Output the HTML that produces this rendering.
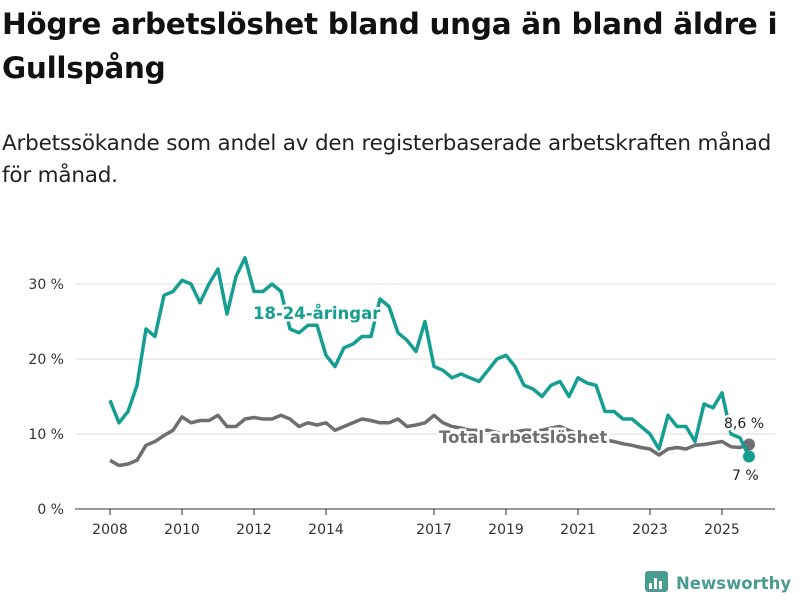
<!DOCTYPE html>
<html><head><meta charset="utf-8"><style>
body{margin:0;background:#fff;width:800px;height:600px;overflow:hidden;font-family:"DejaVu Sans","Liberation Sans",sans-serif;}
#title{position:absolute;left:2px;top:2px;font-size:29.5px;font-weight:bold;line-height:44px;color:#111;margin:0;width:798px;letter-spacing:-0.3px}
#sub{position:absolute;left:2px;top:128px;font-size:21.5px;line-height:32px;color:#222;width:798px;letter-spacing:-0.2px}
svg{position:absolute;left:0;top:0;font-family:"DejaVu Sans","Liberation Sans",sans-serif}
</style></head><body>
<h1 id="title">Högre arbetslöshet bland unga än bland äldre i Gullspång</h1>
<div id="sub">Arbetssökande som andel av den registerbaserade arbetskraften månad för månad.</div>
<svg id="chart" width="800" height="600"></svg>
<script>
const years=[2008,2008.25,2008.5,2008.75,2009,2009.25,2009.5,2009.75,2010,2010.25,2010.5,2010.75,2011,2011.25,2011.5,2011.75,2012,2012.25,2012.5,2012.75,2013,2013.25,2013.5,2013.75,2014,2014.25,2014.5,2014.75,2015,2015.25,2015.5,2015.75,2016,2016.25,2016.5,2016.75,2017,2017.25,2017.5,2017.75,2018,2018.25,2018.5,2018.75,2019,2019.25,2019.5,2019.75,2020,2020.25,2020.5,2020.75,2021,2021.25,2021.5,2021.75,2022,2022.25,2022.5,2022.75,2023,2023.25,2023.5,2023.75,2024,2024.25,2024.5,2024.75,2025,2025.25,2025.5,2025.75];
const youth=[14.5,11.5,13,16.5,24,23,28.5,29,30.5,30,27.5,30,32,26,31,33.5,29,29,30,29,24,23.5,24.5,24.5,20.5,19,21.5,22,23,23,28,27,23.5,22.5,21,25,19,18.5,17.5,18,17.5,17,18.5,20,20.5,19,16.5,16,15,16.5,17,15,17.5,16.8,16.5,13,13,12,12,11,10,8,12.5,11,11,9,14,13.5,15.5,10,9.5,7];
const total=[6.5,5.8,6,6.5,8.5,9,9.8,10.5,12.3,11.5,11.8,11.8,12.5,11,11,12,12.2,12,12,12.5,12,11,11.5,11.2,11.5,10.5,11,11.5,12,11.8,11.5,11.5,12,11,11.2,11.5,12.5,11.5,11,10.8,10.5,10.5,10.5,10.2,10,10.3,10.5,10.5,10.5,10.8,11,10.5,10,9.8,9.5,9.2,9,8.7,8.5,8.2,8,7.2,8,8.2,8,8.5,8.6,8.8,9,8.3,8.2,8.6];
const yTicks=[0,10,20,30];
const xTicks=[2008,2010,2012,2014,2017,2019,2021,2023,2025];
const NS="http://www.w3.org/2000/svg";
const svg=document.getElementById('chart');
const X=v=>110+(v-2008)*36;
const Y=v=>509-v*7.5;
function mk(t,a,p){const e=document.createElementNS(NS,t);for(const k in a)e.setAttribute(k,a[k]);(p||svg).appendChild(e);return e;}
yTicks.forEach(t=>{
  const g=mk('line',{x1:75,x2:775,y1:Y(t),y2:Y(t),stroke:t===0?'#333':'#ddd','stroke-width':1});
  
  
  const l=mk('text',{x:64,y:Y(t)+5,'text-anchor':'end','font-size':14,fill:'#333'});
  l.textContent=t+' %';
  
  
});
xTicks.forEach(t=>{
  const tk=mk('line',{x1:X(t),x2:X(t),y1:509,y2:515,stroke:'#333'});
  
  
  const l=mk('text',{x:X(t),y:534,'text-anchor':'middle','font-size':14,fill:'#333'});
  l.textContent=t;
  
  
});
function line(vals,col,name){
  const d=vals.map((v,i)=>(i?'L':'M')+X(years[i]).toFixed(1)+','+Y(v).toFixed(1)).join('');
  const p=mk('path',{d:d,fill:'none',stroke:col,'stroke-width':3.5,'stroke-linejoin':'round'});
  
  
  const n=vals.length-1;
  const c=mk('circle',{cx:X(years[n]),cy:Y(vals[n]),r:6,fill:col});
  
  
}
line(total,'#6f6e73','total-line');
line(youth,'#159e91','youth-line');
function label(txt,x,y,col,size,w,name){
  const t=mk('text',{x:x,y:y,'font-size':size,'font-weight':w,fill:col,stroke:'#fff','stroke-width':5,'paint-order':'stroke'});
  t.textContent=txt;
  
  
}
label('18-24-åringar',253,319,'#159e91',16.5,'bold','youth-series-label');
label('Total arbetslöshet',439,443,'#6f6e73',16.5,'bold','total-series-label');
label('8,6 %',724,428,'#222',14,'normal','total-end-value');
label('7 %',732,480,'#222',14,'normal','youth-end-value');
const lg=mk('g',{});


mk('rect',{x:645,y:571,width:23,height:21,rx:3,fill:'#4a9d8e'},lg);
[[649,583,3,6],[654,578,3,11],[659,581,3,8]].forEach(b=>mk('rect',{x:b[0],y:b[1],width:b[2],height:b[3],fill:'#fff'},lg));
const lt=mk('text',{x:676,y:589,'font-size':16.5,'font-weight':'bold',fill:'#4a9d8e'},lg);
lt.textContent='Newsworthy';
</script>
</body></html>
